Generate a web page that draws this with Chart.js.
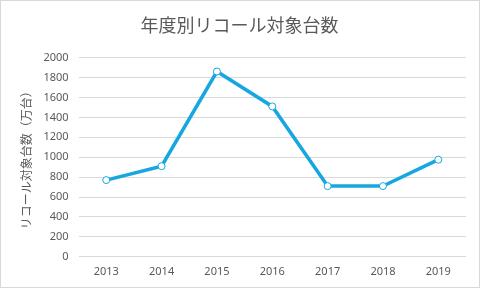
<!DOCTYPE html>
<html>
<head>
<meta charset="utf-8">
<script src="https://cdn.jsdelivr.net/npm/chart.js@4"></script>
<style>
  html, body { margin: 0; padding: 0; background: #fff; }
  #wrap { width: 480px; height: 288px; position: relative; }
</style>
</head>
<body>
<div id="wrap"><canvas id="chart"></canvas></div>
<script>
'use strict';

// ***** DATA *****
const years = ['2013', '2014', '2015', '2016', '2017', '2018', '2019'];
const recallCounts = [770, 910, 1860, 1510, 710, 710, 975];
const chartTitle = '年度別リコール対象台数';
const yAxisTitle = 'リコール対象台数（万台）';

const lineColor = '#17a7e0';
const textColor = '#595959';

// light gray frame round the whole chart
const framePlugin = {
  id: 'frame',
  afterDraw(chart){
    const ctx = chart.ctx;
    ctx.save();
    ctx.strokeStyle = '#d9d9d9';
    ctx.lineWidth = 1;
    ctx.strokeRect(0.5, 0.5, chart.width - 1, chart.height - 1);
    ctx.restore();
  }
};

new Chart(document.getElementById('chart'), {
  type: 'line',
  data: {
    labels: years,
    datasets: [{
      data: recallCounts,
      borderColor: lineColor,
      borderWidth: 3.5,
      pointRadius: 3.5,
      pointBackgroundColor: '#ffffff',
      pointBorderColor: lineColor,
      pointBorderWidth: 1,
      tension: 0
    }]
  },
  options: {
    responsive: true,
    maintainAspectRatio: false,
    animation: false,
    layout: { padding: { left: 13, right: 14, top: 6, bottom: 2 } },
    plugins: {
      legend: { display: false },
      tooltip: { enabled: false },
      title: {
        display: true,
        text: chartTitle,
        color: textColor,
        font: { family: '"Noto Sans CJK JP", sans-serif', size: 18, weight: 'normal' },
        padding: { top: 8, bottom: 22 }
      }
    },
    scales: {
      x: {
        offset: true,
        grid: { display: false, drawTicks: false },
        border: { display: false },
        ticks: {
          color: textColor,
          font: { family: '"Noto Sans", sans-serif', size: 11 },
          padding: 8,
          maxRotation: 0
        }
      },
      y: {
        min: 0,
        max: 2000,
        grid: { color: '#d9d9d9', drawTicks: false },
        border: { display: false },
        ticks: {
          stepSize: 200,
          color: textColor,
          font: { family: '"Noto Sans", sans-serif', size: 11 },
          padding: 10,
          callback: (value) => String(value)
        },
        title: {
          display: true,
          text: yAxisTitle,
          color: textColor,
          font: { family: '"Noto Sans CJK JP", sans-serif', size: 12 },
          padding: { top: 6, bottom: 0 }
        }
      }
    }
  },
  plugins: [framePlugin]
});
</script>
</body>
</html>
